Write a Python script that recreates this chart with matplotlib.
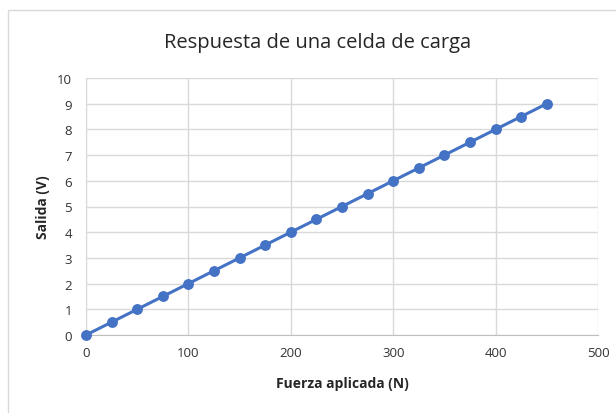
import matplotlib
matplotlib.use("Agg")
import matplotlib.pyplot as plt
from matplotlib.patches import Rectangle

fuerza = [0, 25, 50, 75, 100, 125, 150, 175, 200, 225, 250, 275, 300, 325, 350, 375, 400, 425, 450]
salida = [0, 0.5, 1, 1.5, 2, 2.5, 3, 3.5, 4, 4.5, 5, 5.5, 6, 6.5, 7, 7.5, 8, 8.5, 9]
xticks = [0, 100, 200, 300, 400, 500]
yticks = list(range(0, 11))

plt.rcParams['font.family'] = ['Open Sans', 'DejaVu Sans']

W, H = 616, 414
fig = plt.figure(figsize=(W / 100, H / 100), dpi=100)
fig.patch.set_facecolor('white')

# chart frame border
fig.add_artist(Rectangle((8 / W, -0.1), 1.2, 1 - 11 / H + 0.1, transform=fig.transFigure,
                         fill=False, edgecolor='#d9d9d9', linewidth=1.0))

ax = fig.add_axes([86 / W, 1 - 336 / H, (598 - 86) / W, (336 - 79) / H])
ax.plot(fuerza, salida, color='#4472C4', linewidth=2.2, marker='o', markersize=6.8,
        clip_on=False, zorder=3)

ax.set_xlim(0, 500)
ax.set_ylim(0, 10)
ax.set_xticks(xticks)
ax.set_yticks(yticks)
ax.grid(True, color='#d9d9d9', linewidth=1.0)
ax.set_axisbelow(True)
for s in ['top', 'right']:
    ax.spines[s].set_visible(False)
ax.spines['left'].set_color('#d9d9d9')
ax.spines['bottom'].set_color('#bfbfbf')
ax.tick_params(axis='both', length=0, labelsize=9.5, colors='#333333', pad=8)
ax.tick_params(axis='y', pad=10)

ax.set_xlabel('Fuerza aplicada (N)', fontsize=10, fontweight='bold', color='#262626', labelpad=12)
ax.set_ylabel('Salida (V)', fontsize=10, fontweight='bold', color='#262626', labelpad=5)
fig.text(318 / W, 1 - 43 / H, 'Respuesta de una celda de carga', ha='center', va='center',
         fontsize=14.5, color='#262626')

fig.savefig('out.png', dpi=100)
